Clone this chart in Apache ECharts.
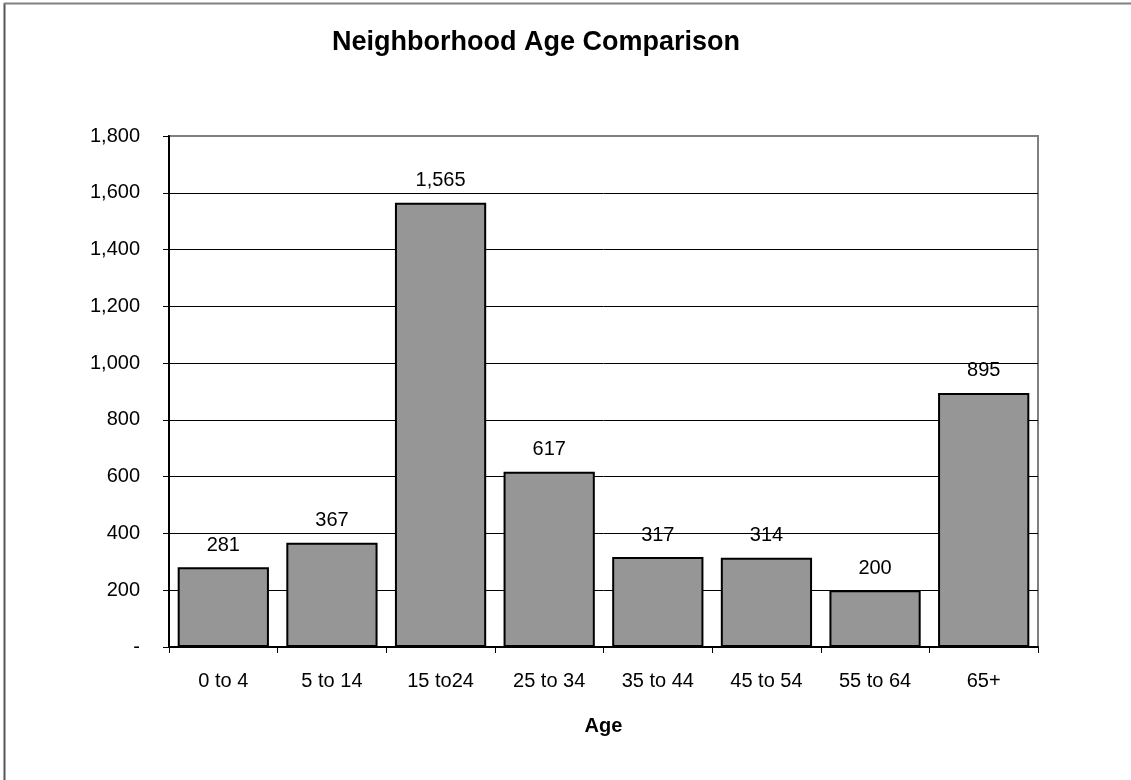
<!DOCTYPE html>
<html>
<head>
<meta charset="utf-8">
<script src="https://cdn.jsdelivr.net/npm/echarts@6/dist/echarts.min.js"></script>
<style>
  html, body { margin: 0; padding: 0; background: #fff; }
  #main { width: 1131px; height: 780px; }
</style>
</head>
<body>
<div id="main"></div>
<script>
var ageGroups = ["0 to 4", "5 to 14", "15 to24", "25 to 34", "35 to 44", "45 to 54", "55 to 64", "65+"];
var people = [281, 367, 1565, 617, 317, 314, 200, 895];
var yTicks = { min: 0, max: 1800, step: 200 };

function fmt(v) {
  if (v === 0) return "-";
  return String(v).replace(/\B(?=(\d{3})+(?!\d))/g, ",");
}

// split lines: black, except the top one which is the grey plot border
var splitColors = [];
for (var i = 0; i <= yTicks.max / yTicks.step; i++) {
  splitColors.push(i === yTicks.max / yTicks.step ? "#808080" : "#000");
}

var font = "Liberation Sans, Arial, sans-serif";

var option = {
  animation: false,
  backgroundColor: "#fff",
  textStyle: { fontFamily: font },
  title: {
    text: "Neighborhood Age Comparison",
    left: 327,
    top: 24,
    textStyle: { fontSize: 27, fontWeight: "bold", color: "#000", fontFamily: font }
  },
  graphic: [
    // outer chart frame (only top/left edges visible)
    { type: "line", shape: { x1: 4.5, y1: 3, x2: 4.5, y2: 780 }, style: { stroke: "#555", lineWidth: 2 } },
    { type: "line", shape: { x1: 4, y1: 3.5, x2: 1131, y2: 3.5 }, style: { stroke: "#808080", lineWidth: 2 } }
  ],
  grid: {
    left: 169,
    right: 93,
    top: 136,
    bottom: 133,
    show: true,
    borderColor: "#808080",
    borderWidth: 2,
    containLabel: false
  },
  xAxis: {
    type: "category",
    data: ageGroups,
    name: "Age",
    nameLocation: "middle",
    nameGap: 69,
    nameTextStyle: { fontSize: 20, fontWeight: "bold", color: "#000", fontFamily: font },
    axisLine: { lineStyle: { color: "#000", width: 2 } },
    axisTick: { show: true, length: 6, lineStyle: { color: "#000", width: 1 } },
    axisLabel: { fontSize: 20, color: "#000", margin: 24, fontFamily: font }
  },
  yAxis: {
    type: "value",
    min: yTicks.min,
    max: yTicks.max,
    interval: yTicks.step,
    axisLine: { show: true, lineStyle: { color: "#000", width: 2 } },
    axisTick: { show: true, length: 6, lineStyle: { color: "#000", width: 1 } },
    axisLabel: { fontSize: 20, color: "#000", margin: 29, fontFamily: font, formatter: fmt },
    splitLine: { show: true, lineStyle: { color: splitColors, width: 1 } }
  },
  series: [
    {
      type: "bar",
      data: people,
      barCategoryGap: "16%",
      itemStyle: { color: "#969696", borderColor: "#000", borderWidth: 2 },
      label: {
        show: true,
        position: "top",
        distance: 12,
        fontSize: 20,
        color: "#000",
        fontFamily: font,
        formatter: function (p) { return fmt(p.value); }
      }
    }
  ]
};

var chart = echarts.init(document.getElementById("main"));
chart.setOption(option);
</script>
</body>
</html>
